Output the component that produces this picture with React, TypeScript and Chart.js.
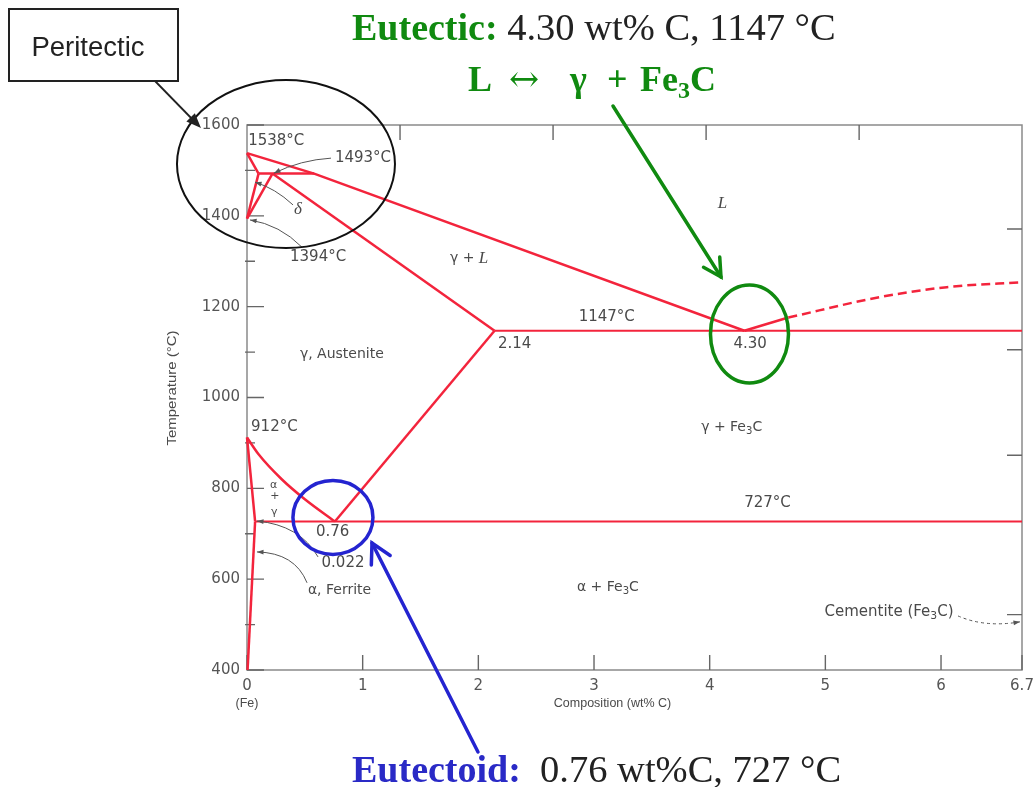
import React, { useEffect, useRef } from "react";
import { Chart, registerables } from "chart.js";

Chart.register(...registerables);

// ---------- Phase boundary data: composition (wt% C) vs temperature (°C) ----------
const liquidusX = [0, 0.58, 4.3];
const liquidusY = [1538, 1493, 1147];
const deltaSolidusX = [0, 0.1];
const deltaSolidusY = [1538, 1493];
const peritecticX = [0.1, 0.58];
const peritecticY = [1493, 1493];
const gammaSolidusX = [0.22, 2.14];
const gammaSolidusY = [1493, 1147];
const deltaSolvusX = [0.1, 0];
const deltaSolvusY = [1493, 1394];
const gammaDeltaX = [0.22, 0];
const gammaDeltaY = [1493, 1394];
const eutecticX = [2.14, 6.7];
const eutecticY = [1147, 1147];
const acmX = [2.14, 0.76];
const acmY = [1147, 727];
const a3X = [0, 0.1, 0.3, 0.5, 0.76];
const a3Y = [912, 875, 820, 776, 727];
const eutectoidX = [0.07, 6.7];
const eutectoidY = [727, 727];
const alphaGammaX = [0, 0.07];
const alphaGammaY = [912, 727];
const alphaSolvusX = [0.07, 0.005];
const alphaSolvusY = [727, 400];
const cemLiqSolidX = [4.3, 4.68];
const cemLiqSolidY = [1147, 1176];
const cemLiqDashX = [4.68, 5.47, 6.05, 6.7];
const cemLiqDashY = [1176, 1221, 1243, 1254];

// ---------- Axes ----------
const xTickValues = [0, 1, 2, 3, 4, 5, 6, 6.7];
const yTickValues = [400, 600, 800, 1000, 1200, 1400, 1600];
const yMinorTicks = [500, 700, 900, 1100, 1300, 1500];
const topTickValues = [1.323, 2.646, 3.969, 5.292];
const rightTickValues = [1371, 1105, 873, 522];

// ---------- Labels (text, wt% C, °C) ----------
const labelTexts = [
  "1538°C", "1493°C", "*δ*", "1394°C", "γ + *L*", "*L*", "1147°C", "2.14", "4.30",
  "γ, Austenite", "912°C", "γ + Fe_3C", "727°C", "α", "+", "γ", "0.76", "0.022",
  "α, Ferrite", "α + Fe_3C", "Cementite (Fe_3C)",
];
const labelX = [0.01, 0.76, 0.44, 0.372, 1.92, 4.11, 3.11, 2.17, 4.35, 0.82, 0.035, 4.19, 4.5, 0.23, 0.24, 0.235, 0.74, 0.83, 0.8, 3.12, 5.55];
const labelY = [1565, 1527, 1413, 1309, 1307, 1426, 1177, 1118, 1118, 1096, 935, 935, 768, 808, 782, 747, 704, 636, 576, 583, 528];
const labelAlign = ["left", "left", "center", "left", "center", "center", "center", "left", "center", "center", "left", "center", "center", "center", "center", "center", "center", "center", "center", "center", "center"];

const RED = "#f3243c";
const GREEN = "#108a10";
const BLUE = "#2a2ac6";
const GRAY_TEXT = "#4a4a4a";

function parseRich(text: string) {
  const segs: { s: string; italic: boolean; sub: boolean }[] = [];
  let buf = "";
  let italic = false;
  for (let i = 0; i < text.length; i++) {
    const c = text[i];
    if (c === "*") {
      if (buf) segs.push({ s: buf, italic, sub: false });
      buf = "";
      italic = !italic;
    } else if (c === "_") {
      if (buf) segs.push({ s: buf, italic, sub: false });
      buf = "";
      segs.push({ s: text[i + 1], italic, sub: true });
      i++;
    } else buf += c;
  }
  if (buf) segs.push({ s: buf, italic, sub: false });
  return segs;
}

function drawRich(ctx: CanvasRenderingContext2D, text: string, x: number, y: number, align: string, size: number) {
  const segs = parseRich(text);
  const fonts = segs.map((sg) =>
    sg.sub ? `${size * 0.72}px "DejaVu Sans"` : sg.italic ? `italic ${size + 3}px "Liberation Serif"` : `${size}px "DejaVu Sans"`
  );
  const widths = segs.map((sg, i) => {
    ctx.font = fonts[i];
    return ctx.measureText(sg.s).width;
  });
  const total = widths.reduce((a, b) => a + b, 0);
  let cx = align === "center" ? x - total / 2 : align === "right" ? x - total : x;
  ctx.textAlign = "left";
  ctx.textBaseline = "middle";
  segs.forEach((sg, i) => {
    ctx.font = fonts[i];
    ctx.fillText(sg.s, cx, y + (sg.sub ? size * 0.32 : 0));
    cx += widths[i];
  });
}

type Seg = { s: string; font: string; color: string; dy?: number; x?: number };
function drawSegs(ctx: CanvasRenderingContext2D, segs: Seg[], x: number, baseline: number) {
  let cx = x;
  ctx.textAlign = "left";
  ctx.textBaseline = "alphabetic";
  segs.forEach((sg) => {
    ctx.font = sg.font;
    ctx.fillStyle = sg.color;
    if (sg.x !== undefined) cx = sg.x;
    ctx.fillText(sg.s, cx, baseline + (sg.dy || 0));
    cx += ctx.measureText(sg.s).width;
  });
}

function arrowHead(ctx: CanvasRenderingContext2D, tx: number, ty: number, fx: number, fy: number, len: number, ang: number, filled: boolean) {
  const a = Math.atan2(ty - fy, tx - fx);
  const p1 = [tx - len * Math.cos(a - ang), ty - len * Math.sin(a - ang)];
  const p2 = [tx - len * Math.cos(a + ang), ty - len * Math.sin(a + ang)];
  ctx.beginPath();
  ctx.moveTo(p1[0], p1[1]);
  ctx.lineTo(tx, ty);
  ctx.lineTo(p2[0], p2[1]);
  if (filled) {
    ctx.closePath();
    ctx.fill();
  } else ctx.stroke();
}

const line = (xs: number[], ys: number[], extra: any = {}) => ({
  data: xs.map((x, i) => ({ x, y: ys[i] })),
  showLine: true,
  borderColor: RED,
  backgroundColor: RED,
  borderWidth: 2.5,
  pointRadius: 0,
  fill: false,
  tension: 0,
  clip: false,
  ...extra,
});

const framePlugin = {
  id: "frame",
  beforeDatasetsDraw(chart: any) {
    const { ctx, chartArea: a, scales } = chart;
    const xs = scales.x;
    const ys = scales.y;
    ctx.save();
    ctx.strokeStyle = "#8a8a8a";
    ctx.lineWidth = 1.5;
    ctx.strokeRect(a.left, a.top, a.right - a.left, a.bottom - a.top);
    ctx.strokeStyle = "#666";
    ctx.lineWidth = 1.4;
    ctx.beginPath();
    yTickValues.forEach((v) => {
      const y = ys.getPixelForValue(v);
      ctx.moveTo(a.left, y);
      ctx.lineTo(a.left + 17, y);
    });
    yMinorTicks.forEach((v) => {
      const y = ys.getPixelForValue(v);
      ctx.moveTo(a.left - 2, y);
      ctx.lineTo(a.left + 8, y);
    });
    xTickValues.forEach((v) => {
      const x = xs.getPixelForValue(v);
      ctx.moveTo(x, a.bottom);
      ctx.lineTo(x, a.bottom - 15);
    });
    topTickValues.forEach((v) => {
      const x = xs.getPixelForValue(v);
      ctx.moveTo(x, a.top);
      ctx.lineTo(x, a.top + 15);
    });
    rightTickValues.forEach((v) => {
      const y = ys.getPixelForValue(v);
      ctx.moveTo(a.right, y);
      ctx.lineTo(a.right - 15, y);
    });
    ctx.stroke();
    ctx.restore();
  },
  afterDraw(chart: any) {
    const { ctx, chartArea: a, scales } = chart;
    const xs = scales.x;
    const ys = scales.y;
    const P = (x: number, T: number) => [xs.getPixelForValue(x), ys.getPixelForValue(T)];
    ctx.save();

    // axis titles
    ctx.fillStyle = GRAY_TEXT;
    ctx.font = '12.5px "Liberation Sans"';
    ctx.textAlign = "center";
    ctx.textBaseline = "middle";
    ctx.fillText("Composition (wt% C)", (a.left + a.right) / 2 - 22, 704);
    ctx.fillText("(Fe)", xs.getPixelForValue(0), 704);
    ctx.save();
    ctx.translate(173, 388);
    ctx.rotate(-Math.PI / 2);
    ctx.scale(1.2, 1);
    ctx.fillText("Temperature (°C)", 0, 0);
    ctx.restore();

    // phase / temperature labels
    ctx.fillStyle = GRAY_TEXT;
    labelTexts.forEach((t, i) => {
      const [x, y] = P(labelX[i], labelY[i]);
      const small = t === "α" || t === "+" || t === "γ";
      const numeric = /^[0-9]/.test(t) || t.startsWith("Cementite");
      drawRich(ctx, t, x, y, labelAlign[i], small ? 11 : numeric ? 15 : 14);
    });

    // small gray pointer arrows
    ctx.strokeStyle = "#555";
    ctx.fillStyle = "#555";
    ctx.lineWidth = 1;
    const pointers = [
      [[0.726, 1527], [0.465, 1523], [0.233, 1494]],
      [[0.398, 1424], [0.242, 1461], [0.069, 1474]],
      [[0.475, 1331], [0.285, 1380], [0.026, 1391]],
      [[0.614, 649], [0.458, 719], [0.086, 728]],
      [[0.519, 592], [0.415, 658], [0.086, 660]],
    ];
    pointers.forEach(([s, c, e]) => {
      const [sx, sy] = P(s[0], s[1]);
      const [cx, cy] = P(c[0], c[1]);
      const [ex, ey] = P(e[0], e[1]);
      ctx.beginPath();
      ctx.moveTo(sx, sy);
      ctx.quadraticCurveTo(cx, cy, ex, ey);
      ctx.stroke();
      arrowHead(ctx, ex, ey, cx, cy, 7, 0.35, true);
    });
    {
      const [sx, sy] = P(6.147, 519);
      const [cx, cy] = P(6.38, 493);
      const [ex, ey] = P(6.683, 506);
      ctx.setLineDash([3, 3]);
      ctx.beginPath();
      ctx.moveTo(sx, sy);
      ctx.quadraticCurveTo(cx, cy, ex, ey);
      ctx.stroke();
      ctx.setLineDash([]);
      arrowHead(ctx, ex, ey, cx, cy, 7, 0.35, true);
    }

    // ellipses
    const ell = (x: number, T: number, rx: number, ry: number, color: string, lw: number) => {
      const [cx, cy] = P(x, T);
      ctx.beginPath();
      ctx.ellipse(cx, cy, rx, ry, 0, 0, Math.PI * 2);
      ctx.strokeStyle = color;
      ctx.lineWidth = lw;
      ctx.stroke();
    };
    ell(0.337, 1514, 109, 84, "#111", 2);
    ell(4.344, 1140, 39, 49, GREEN, 3.5);
    ell(0.743, 736, 40, 37, "#2424d0", 3.5);

    // Peritectic box + arrow
    ctx.fillStyle = "#fff";
    ctx.fillRect(9, 9, 169, 72);
    ctx.strokeStyle = "#222";
    ctx.lineWidth = 2;
    ctx.strokeRect(9, 9, 169, 72);
    ctx.fillStyle = "#222";
    ctx.font = '27.5px "Liberation Sans"';
    ctx.textAlign = "center";
    ctx.textBaseline = "middle";
    ctx.fillText("Peritectic", 88, 48);
    ctx.lineWidth = 1.8;
    ctx.beginPath();
    ctx.moveTo(155, 81);
    ctx.lineTo(196, 123);
    ctx.stroke();
    arrowHead(ctx, 201, 128, 155, 81, 16, 0.38, true);

    // green arrow
    ctx.strokeStyle = GREEN;
    ctx.lineWidth = 3.5;
    ctx.lineCap = "round";
    ctx.beginPath();
    ctx.moveTo(613, 106);
    ctx.lineTo(721, 277);
    ctx.stroke();
    arrowHead(ctx, 721, 277, 613, 106, 20, 0.5, false);

    // blue arrow
    ctx.strokeStyle = "#2424d0";
    ctx.beginPath();
    ctx.moveTo(478, 752);
    ctx.lineTo(372, 543);
    ctx.stroke();
    arrowHead(ctx, 372, 543, 478, 752, 22, 0.5, false);

    // headline texts
    drawSegs(ctx, [
      { s: "Eutectic:", font: 'bold 38px "Liberation Serif"', color: GREEN },
      { s: " 4.30 wt% C, 1147 °C", font: '38.5px "Liberation Serif"', color: "#222" },
    ], 352, 40);
    drawSegs(ctx, [
      { s: "L", font: 'bold 36px "Liberation Serif"', color: GREEN, x: 468 },
      { s: "↔", font: '36px "DejaVu Serif"', color: GREEN, x: 509 },
      { s: "γ", font: 'bold 36px "Liberation Serif"', color: GREEN, x: 570 },
      { s: "+", font: 'bold 36px "Liberation Serif"', color: GREEN, x: 607 },
      { s: "Fe", font: 'bold 36px "Liberation Serif"', color: GREEN, x: 640 },
      { s: "3", font: 'bold 24px "Liberation Serif"', color: GREEN, dy: 7 },
      { s: "C", font: 'bold 36px "Liberation Serif"', color: GREEN },
    ], 468, 91);
    drawSegs(ctx, [
      { s: "Eutectoid:", font: 'bold 38px "Liberation Serif"', color: BLUE },
      { s: "  0.76 wt%C, 727 °C", font: '38.5px "Liberation Serif"', color: "#222" },
    ], 352, 782);

    ctx.restore();
  },
};

export default function App() {
  const ref = useRef<HTMLCanvasElement>(null);
  useEffect(() => {
    const canvas = ref.current!;
    const chart = new Chart(canvas, {
      type: "scatter",
      data: {
        datasets: [
          line(liquidusX, liquidusY),
          line(deltaSolidusX, deltaSolidusY),
          line(peritecticX, peritecticY),
          line(gammaSolidusX, gammaSolidusY),
          line(deltaSolvusX, deltaSolvusY),
          line(gammaDeltaX, gammaDeltaY),
          line(eutecticX, eutecticY, { borderWidth: 2 }),
          line(acmX, acmY),
          line(a3X, a3Y, { cubicInterpolationMode: "monotone" }),
          line(eutectoidX, eutectoidY, { borderWidth: 2 }),
          line(alphaGammaX, alphaGammaY),
          line(alphaSolvusX, alphaSolvusY),
          line(cemLiqSolidX, cemLiqSolidY),
          line(cemLiqDashX, cemLiqDashY, { borderDash: [9, 5], cubicInterpolationMode: "monotone" }),
        ] as any,
      },
      options: {
        responsive: false,
        animation: false,
        devicePixelRatio: 1,
        layout: { padding: { top: 125, right: 11, left: 0, bottom: 0 } },
        plugins: { legend: { display: false }, tooltip: { enabled: false } },
        scales: {
          x: {
            type: "linear",
            position: "bottom",
            min: 0,
            max: 6.7,
            afterBuildTicks: (s: any) => {
              s.ticks = xTickValues.map((v) => ({ value: v }));
            },
            afterFit: (s: any) => {
              s.height = 117;
              s.paddingLeft = 0;
              s.paddingRight = 0;
            },
            grid: { display: false, drawTicks: false },
            border: { display: false },
            ticks: {
              color: "#555",
              font: { family: "DejaVu Sans", size: 15 },
              padding: 7,
              maxRotation: 0,
              autoSkip: false,
              callback: (v: any) => String(v),
            },
          },
          y: {
            type: "linear",
            min: 400,
            max: 1600,
            afterBuildTicks: (s: any) => {
              s.ticks = yTickValues.map((v) => ({ value: v }));
            },
            afterFit: (s: any) => {
              s.width = 247;
              s.paddingTop = 0;
              s.paddingBottom = 0;
            },
            grid: { display: false, drawTicks: false },
            border: { display: false },
            ticks: {
              color: "#555",
              font: { family: "DejaVu Sans", size: 15 },
              padding: 7,
              autoSkip: false,
              callback: (v: any) => String(v),
            },
          },
        },
      } as any,
      plugins: [framePlugin],
    });
    return () => chart.destroy();
  }, []);
  return (
    <div style={{ position: "absolute", left: 0, top: 0, width: 1033, height: 787, background: "#fff" }}>
      <canvas ref={ref} width={1033} height={787} style={{ display: "block", width: 1033, height: 787 }} />
    </div>
  );
}
